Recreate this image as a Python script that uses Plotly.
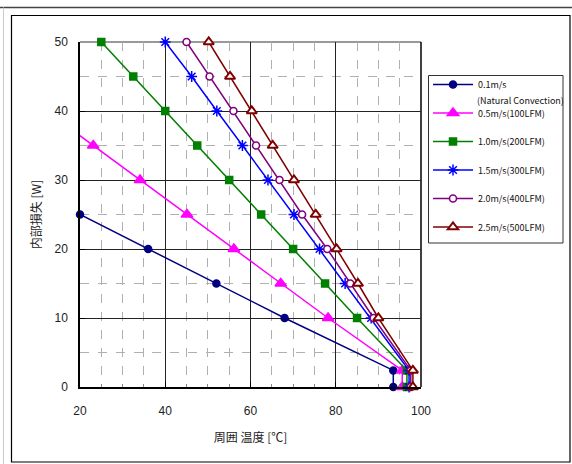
import plotly.graph_objects as go

# Ambient temperature [°C] vs internal power loss [W] for each airflow speed
names = [
    "0.1m/s",
    "0.5m/s(100LFM)",
    "1.0m/s(200LFM)",
    "1.5m/s(300LFM)",
    "2.0m/s(400LFM)",
    "2.5m/s(500LFM)",
]
name_note = "(Natural Convection)"

temp_01 = [20, 36, 52, 68, 93.5, 93.5]
loss_01 = [25, 20, 15, 10, 2.4, 0]

temp_05 = [12.1, 23.1, 34.1, 45.1, 56.1, 67.1, 78.2, 95.6, 95.6]
loss_05 = [40, 35, 30, 25, 20, 15, 10, 2.4, 0]

temp_10 = [25, 32.5, 40, 47.5, 55, 62.5, 70, 77.5, 85, 96.7, 96.7]
loss_10 = [50, 45, 40, 35, 30, 25, 20, 15, 10, 2.4, 0]

temp_15 = [40, 46.2, 52.1, 58.1, 64.1, 70.2, 76.2, 82.2, 88.3, 97.2, 97.2]
loss_15 = [50, 45, 40, 35, 30, 25, 20, 15, 10, 2.4, 0]

temp_20 = [45, 50.4, 56, 61.3, 66.8, 72.1, 78, 83.4, 88.9, 97.6, 97.6]
loss_20 = [50, 45, 40, 35, 30, 25, 20, 15, 10, 2.4, 0]

temp_25 = [50.2, 55.2, 60.3, 65.2, 70.2, 75.3, 80.2, 85.2, 90, 98.1, 98.1]
loss_25 = [50, 45, 40, 35, 30, 25, 20, 15, 10, 2.4, 0]

series_x = [temp_01, temp_05, temp_10, temp_15, temp_20, temp_25]
series_y = [loss_01, loss_05, loss_10, loss_15, loss_20, loss_25]

colors = ["#000080", "#FF00FF", "#008000", "#0000FF", "#800080", "#800000"]
markers = [
    dict(symbol="circle", size=7),
    dict(symbol="triangle-up", size=10),
    dict(symbol="square", size=7),
    dict(symbol="asterisk-open", size=9),
    dict(symbol="circle", size=7),
    dict(symbol="triangle-up", size=9),
]

W, H = 572, 464
L, R, T, B = 80, 151, 42, 77
PW, PH = W - L - R, H - T - B


def px_x(p):
    return (p - L) / PW


def px_y(p):
    return (H - B - p) / PH


fig = go.Figure()
for i in range(6):
    c = colors[i]
    m = dict(markers[i], color=c, line=dict(color=c, width=1.5))
    if i in (4, 5):
        m = dict(markers[i], color="white", line=dict(color=c, width=1.6 if i == 4 else 2))
    fig.add_trace(go.Scatter(
        x=series_x[i], y=series_y[i], name=names[i],
        mode="lines+markers", legendgroup=str(i),
        line=dict(color=c, width=1.5), marker=m, cliponaxis=False,
    ))

tick_font = dict(family="Liberation Sans, Arial, sans-serif", size=12, color="#222")
title_font = dict(family="Noto Sans CJK JP, sans-serif", size=12, color="#222")
legend_font = dict(family="Noto Sans CJK JP, sans-serif", size=9, color="#111")

fig.update_xaxes(
    range=[20, 100], tickvals=[20, 40, 60, 80, 100],
    showline=True, linecolor="black", linewidth=1.5,
    showgrid=True, gridcolor="#222", gridwidth=1,
    ticks="inside", ticklen=5, tickcolor="black",
    minor=dict(dtick=5, tick0=20, showgrid=True, gridcolor="#b0b0b0",
               griddash="dash", gridwidth=1, ticks="inside", ticklen=3,
               tickcolor="#888"),
    zeroline=False, tickfont=tick_font, ticklabelstandoff=12,
    title=dict(text="周囲 温度 [℃]", font=title_font, standoff=16),
)
fig.update_yaxes(
    range=[0, 50], tickvals=[0, 10, 20, 30, 40, 50],
    showline=True, linecolor="black", linewidth=1.5,
    showgrid=True, gridcolor="#222", gridwidth=1,
    ticks="inside", ticklen=5, tickcolor="black",
    minor=dict(dtick=5, tick0=0, showgrid=True, gridcolor="#b0b0b0",
               griddash="dash", gridwidth=1),
    zeroline=False, tickfont=tick_font, ticklabelstandoff=8,
    title=dict(text="内部損失 [W]", font=title_font, standoff=10),
)

shapes = [
    # top edge of the plot area
    dict(type="line", xref="paper", yref="paper", x0=0, x1=1, y0=1, y1=1,
         line=dict(color="#999", width=2), layer="between"),
    # right edge of the plot area
    dict(type="line", xref="paper", yref="paper", x0=1, x1=1, y0=0, y1=1,
         line=dict(color="black", width=1.5), layer="between"),
    # outer frame
    dict(type="line", xref="paper", yref="paper", x0=px_x(0), x1=px_x(W),
         y0=px_y(7.5), y1=px_y(7.5), line=dict(color="#444", width=1.5)),
    dict(type="line", xref="paper", yref="paper", x0=px_x(3.5), x1=px_x(3.5),
         y0=px_y(7.5), y1=px_y(H), line=dict(color="#ccc", width=1)),
    dict(type="rect", xref="paper", yref="paper", x0=px_x(11.5), x1=px_x(570),
         y0=px_y(15.5), y1=px_y(462), line=dict(color="black", width=1.2)),
    # legend box
    dict(type="rect", xref="paper", yref="paper", x0=px_x(428.5), x1=px_x(563),
         y0=px_y(75.5), y1=px_y(243), line=dict(color="#333", width=1)),
]

fig.update_layout(
    width=W, height=H,
    margin=dict(l=L, r=R, t=T, b=B, autoexpand=False),
    paper_bgcolor="white", plot_bgcolor="white",
    shapes=shapes,
    annotations=[dict(
        text=name_note, xref="paper", yref="paper",
        x=px_x(475), y=px_y(100), xanchor="left", yanchor="middle",
        showarrow=False, font=legend_font,
    )],
    showlegend=True,
    legend=dict(
        x=px_x(428), y=px_y(70), xanchor="left", yanchor="top",
        borderwidth=0, bgcolor="rgba(0,0,0,0)",
        font=legend_font, tracegroupgap=9.5, itemwidth=40,
    ),
)

fig.write_html("out.html")
